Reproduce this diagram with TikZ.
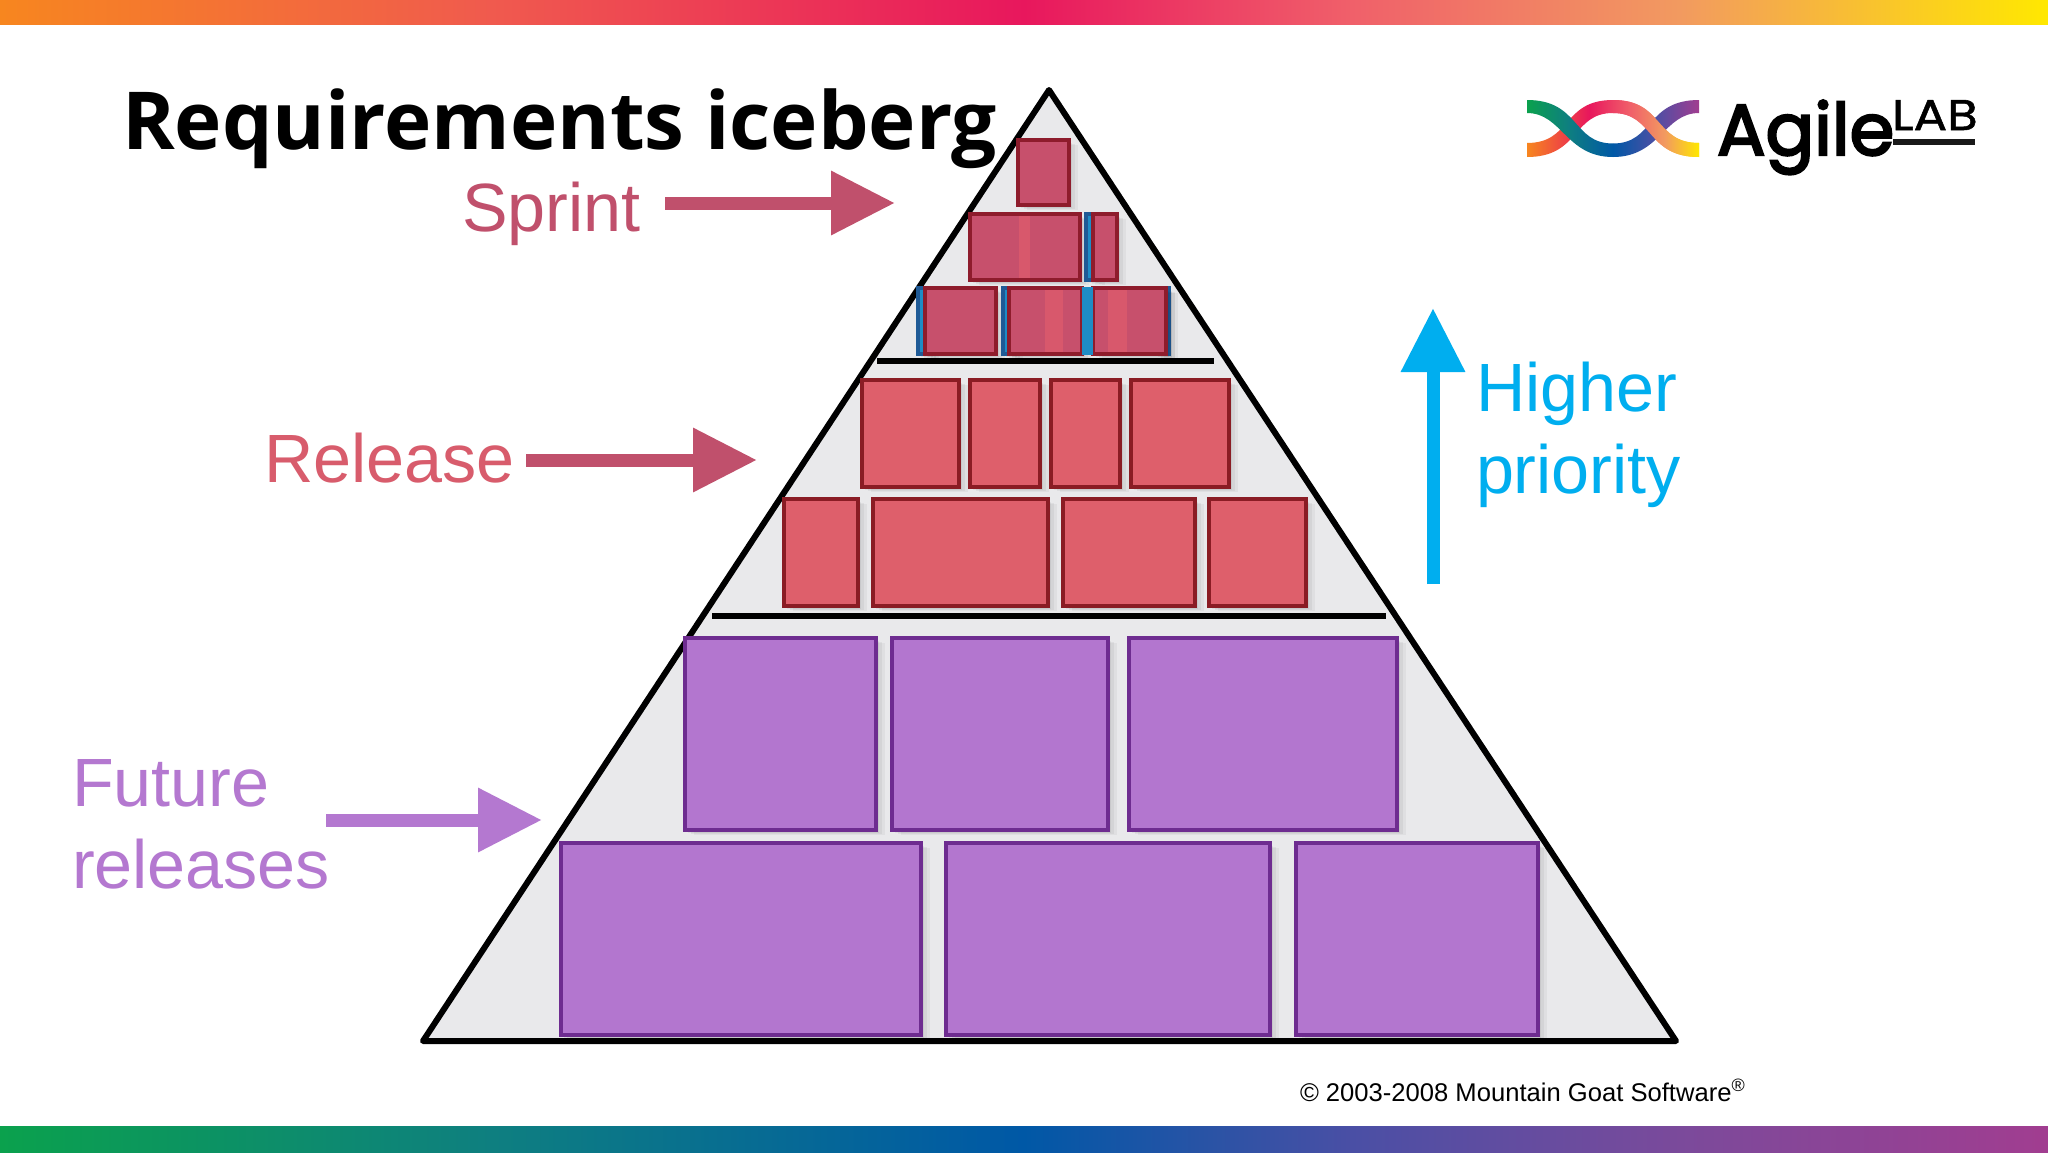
\documentclass[tikz,border=0pt]{standalone}
\usepackage{fontspec}
\setmainfont{Liberation Sans}
\newfontfamily\titlefont{Open Sans}
\newfontfamily\agilefont[FakeBold=3.2]{Poppins}
\newfontfamily\labfont[FakeBold=1.2,FakeStretch=1.16]{Poppins}
\usetikzlibrary{arrows.meta}
\definecolor{sprintc}{HTML}{C0506C}
\definecolor{releasec}{HTML}{D85C6C}
\definecolor{futurec}{HTML}{B478D0}
\definecolor{skyc}{HTML}{00AEEF}
\definecolor{trifill}{HTML}{E9E9EB}
\definecolor{sprintfill}{HTML}{C7506C}
\definecolor{sprintlight}{HTML}{D8586C}
\definecolor{sprintedge}{HTML}{8E1C2C}
\definecolor{relfill}{HTML}{DE5F6B}
\definecolor{reledge}{HTML}{8A1C24}
\definecolor{purfill}{HTML}{B376CF}
\definecolor{puredge}{HTML}{6E2C90}
\definecolor{bluefill}{HTML}{1E8CC6}
\definecolor{blueedge}{HTML}{1F5A96}
\definecolor{HTMLa}{HTML}{F7861F}
\definecolor{HTMLb}{HTML}{F05A4E}
\definecolor{HTMLc}{HTML}{E8175D}
\definecolor{HTMLd}{HTML}{F0606A}
\definecolor{HTMLe}{HTML}{F29A60}
\definecolor{HTMLf}{HTML}{FFE800}
\definecolor{HTMLg}{HTML}{0BA14D}
\definecolor{HTMLh}{HTML}{0E7F80}
\definecolor{HTMLi}{HTML}{0058A6}
\definecolor{HTMLj}{HTML}{4A4FA5}
\definecolor{HTMLk}{HTML}{7B4A9B}
\definecolor{HTMLl}{HTML}{A13D90}
\pgfdeclarehorizontalshading{botbar}{100bp}{color(0bp)=(HTMLg);color(25bp)=(HTMLg);color(37bp)=(HTMLh);color(50bp)=(HTMLi);color(58bp)=(HTMLj);color(66bp)=(HTMLk);color(75bp)=(HTMLl);color(100bp)=(HTMLl)}
\pgfdeclarehorizontalshading{topbarb}{100bp}{color(0bp)=(HTMLa);color(25bp)=(HTMLa);color(37bp)=(HTMLb);color(50bp)=(HTMLc);color(58bp)=(HTMLd);color(66bp)=(HTMLe);color(75bp)=(HTMLf);color(100bp)=(HTMLf)}
\pgfdeclarehorizontalshading{ribbona}{100bp}{color(0bp)=(HTMLg);color(25bp)=(HTMLg);color(37bp)=(HTMLh);color(50bp)=(HTMLi);color(62bp)=(HTMLj);color(75bp)=(HTMLl);color(100bp)=(HTMLl)}
\pgfdeclarehorizontalshading{ribbonb}{100bp}{color(0bp)=(HTMLa);color(25bp)=(HTMLa);color(43bp)=(HTMLc);color(55bp)=(HTMLd);color(65bp)=(HTMLe);color(75bp)=(HTMLf);color(100bp)=(HTMLf)}
\tikzset{
  softshade/.style={
    preaction={fill=black,opacity=.05,transform canvas={shift={(3pt,-3pt)}}},
    preaction={fill=black,opacity=.05,transform canvas={shift={(6pt,-4pt)}}},
    preaction={fill=black,opacity=.04,transform canvas={shift={(9pt,-5pt)}}}},
  brickbase/.style={rectangle,inner sep=0pt,outer sep=0pt,line width=3.3pt},
  sprintbrick/.style={brickbase,softshade,fill=sprintfill,draw=sprintedge},
  sprintstripe/.style={brickbase,fill=sprintlight},
  bluebar/.style={brickbase,softshade,fill=bluefill,draw=blueedge},
  relbrick/.style={brickbase,softshade,fill=relfill,draw=reledge},
  purbrick/.style={brickbase,softshade,fill=purfill,draw=puredge},
  divider/.style={line width=6pt,black},
  txt/.style={inner sep=0pt,outer sep=0pt,anchor=base west},
  blockarrow/.style={line width=13pt,-{Triangle[length=64pt,width=61pt]}}
}
\newcommand{\brick}[6]{\node[#6,minimum width={(#4-#2)*1pt},minimum height={(#5-#3)*1pt}] (#1) at ({(#2+#4)/2},{(#3+#5)/2}) {};}
\newcommand{\biglab}{\fontsize{68.3}{78}\selectfont}
\newcommand{\ribbonA}{(1527,100) .. controls (1580,100) and (1572,143.5) .. (1613,143.5)
  .. controls (1654,143.5) and (1646,100) .. (1699,100) -- (1699,113)
  .. controls (1664,113) and (1660,157) .. (1613,157)
  .. controls (1566,157) and (1562,113) .. (1527,113) -- cycle}
\newcommand{\ribbonB}{(1527,143) .. controls (1572,143) and (1562,100) .. (1613,100)
  .. controls (1664,100) and (1654,143) .. (1699,143) -- (1699,157)
  .. controls (1646,157) and (1654,113) .. (1613,113)
  .. controls (1572,113) and (1580,157) .. (1527,157) -- cycle}
\begin{document}
\begin{tikzpicture}[x=1pt,y=-1pt]
\useasboundingbox (0,0) rectangle (2048,1152);
\fill[white] (0,0) rectangle (2048,1152);
% bars
\shade[shading=topbarb] (0,0) rectangle (2048,24);
\shade[shading=botbar] (0,1126) rectangle (2048,1152);
% triangle
\coordinate (apex) at (1049,90);
\coordinate (bl) at (423,1041);
\coordinate (br) at (1676,1041);
\filldraw[fill=trifill,draw=black,line width=6pt,line join=round] (apex) -- (br) -- (bl) -- cycle;
% sprint rows
\brick{s1}{1018}{140}{1069}{205}{sprintbrick}
\brick{s2}{970}{214}{1080}{280}{sprintbrick}
\brick{s2a}{1019}{216}{1030}{278}{sprintstripe}
\draw[line width=3.3pt,sprintedge] (s2.south west) rectangle (s2.north east);
\brick{b1}{1086}{214}{1096}{280}{bluebar}
\brick{s3}{1093}{214}{1117}{280}{sprintbrick}
\brick{b2}{918}{288}{930}{354}{bluebar}
\brick{s4}{925}{288}{996}{354}{sprintbrick}
\brick{b3}{1003}{288}{1014}{354}{bluebar}
\brick{b4}{1155}{288}{1169}{354}{bluebar}
\brick{s5}{1009}{288}{1082}{354}{sprintbrick}
\brick{s5a}{1045}{290}{1063}{352}{sprintstripe}
\draw[line width=3.3pt,sprintedge] (s5.south west) rectangle (s5.north east);
\brick{s6}{1093}{288}{1166}{354}{sprintbrick}
\brick{s6a}{1108}{290}{1127}{352}{sprintstripe}
\draw[line width=3.3pt,sprintedge] (s6.south west) rectangle (s6.north east);
\node[brickbase,fill=bluefill,minimum width=11pt,minimum height=68pt] (b5) at (1087.5,321) {};
% divider 1
\coordinate (d1a) at (877,360.5);
\coordinate (d1b) at (1214,360.5);
\draw[divider] (d1a) -- (d1b);
% release rows
\brick{r1}{862}{380}{959}{487}{relbrick}
\brick{r2}{970}{380}{1040}{487}{relbrick}
\brick{r3}{1051}{380}{1120}{487}{relbrick}
\brick{r4}{1131}{380}{1229}{487}{relbrick}
\brick{r5}{784}{499}{858}{606}{relbrick}
\brick{r6}{873}{499}{1048}{606}{relbrick}
\brick{r7}{1063}{499}{1195}{606}{relbrick}
\brick{r8}{1209}{499}{1306}{606}{relbrick}
% divider 2
\coordinate (d2a) at (712,616);
\coordinate (d2b) at (1386,616);
\draw[divider] (d2a) -- (d2b);
% future rows
\brick{p1}{685}{638}{876}{830}{purbrick}
\brick{p2}{892}{638}{1108}{830}{purbrick}
\brick{p3}{1129}{638}{1397}{830}{purbrick}
\brick{p4}{561}{843}{921}{1035}{purbrick}
\brick{p5}{946}{843}{1270}{1035}{purbrick}
\brick{p6}{1296}{843}{1538}{1035}{purbrick}
% texts
\node[txt] (title) at (122,149) {\titlefont\bfseries\fontsize{80}{90}\selectfont Requirements iceberg};
\node[txt,text=sprintc] (sprintlab) at (462,231) {\biglab Sprint};
\node[txt,text=releasec] (releaselab) at (264,482) {\biglab Release};
\node[txt,text=futurec] (futurelab) at (72,806) {\biglab Future};
\node[txt,text=futurec] (releaseslab) at (72,888) {\biglab releases};
\node[txt,text=skyc] (higherlab) at (1476,411) {\biglab Higher};
\node[txt,text=skyc] (prioritylab) at (1476,493) {\biglab priority};
\node[txt] (copy) at (1300,1101) {\fontsize{25.6}{30}\selectfont © 2003-2008 Mountain Goat Software\textsuperscript{®}};
% arrows
\coordinate (a1s) at (665,203); \coordinate (a1e) at (895,203);
\coordinate (a2s) at (526,460); \coordinate (a2e) at (757,460);
\coordinate (a3s) at (326,820); \coordinate (a3e) at (542,820);
\coordinate (a4s) at (1433,584); \coordinate (a4e) at (1433,308);
\draw[blockarrow,sprintc] (a1s) -- (a1e);
\draw[blockarrow,sprintc] (a2s) -- (a2e);
\draw[blockarrow,futurec] (a3s) -- (a3e);
\draw[blockarrow,skyc] (a4s) -- (a4e);
% logo ribbons: A over B on the left half, B over A on the right half
\shade[shading=ribbonb] \ribbonB;
\begin{scope}
\clip (1520,90) rectangle (1613,165);
\shade[shading=ribbona] \ribbonA;
\end{scope}
\begin{scope}
\clip (1613,90) rectangle (1710,165);
\shade[shading=ribbona] \ribbonA;
\shade[shading=ribbonb] \ribbonB;
\end{scope}
% logo text
\node[txt] (agile) at (1717,155) {\agilefont\fontsize{72}{80}\selectfont Agile};
\node[txt] (lab) at (1892,130) {\labfont\fontsize{43}{50}\selectfont LAB};
\coordinate (lua) at (1893,141.5); \coordinate (lub) at (1975,141.5);
\draw[line width=6pt,black!90] (lua) -- (lub);
\end{tikzpicture}
\end{document}
